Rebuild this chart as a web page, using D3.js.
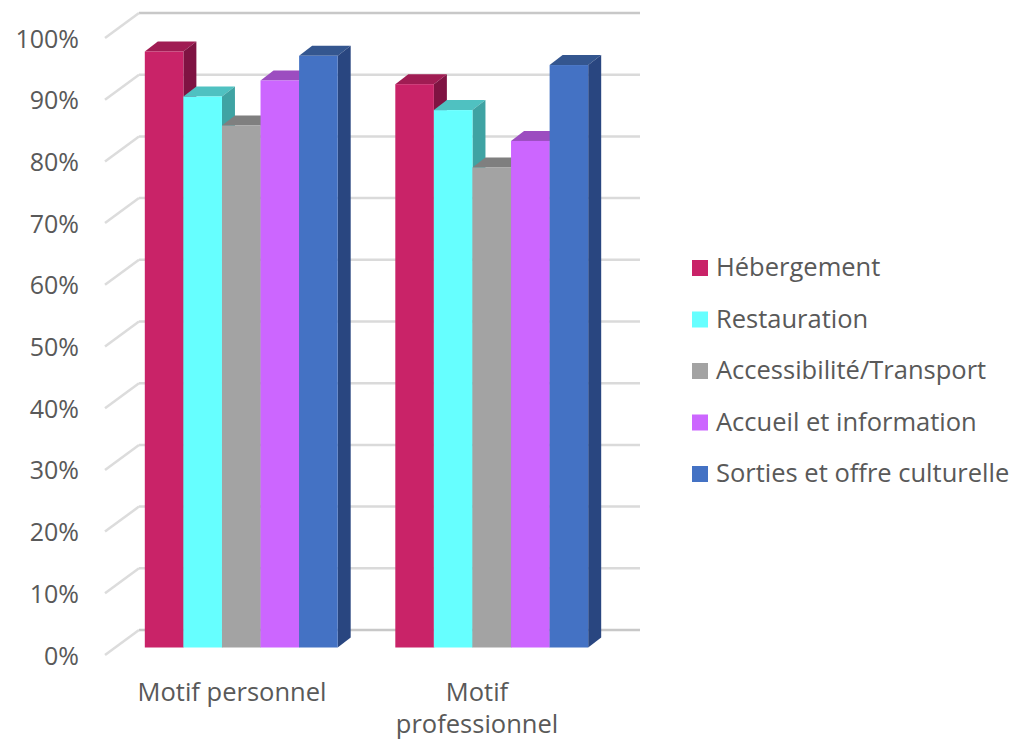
<!DOCTYPE html>
<html>
<head>
<meta charset="utf-8">
<script src="https://d3js.org/d3.v7.min.js"></script>
<style>
  html, body { margin: 0; background: #fff; }
  text { font-family: "Open Sans", sans-serif; fill: #595959; }
</style>
</head>
<body>
<div id="chart"></div>
<script>
const categories = ['Motif personnel', 'Motif professionnel'];
const categoryLines = [['Motif personnel'], ['Motif', 'professionnel']];
const seriesNames = ['Hébergement', 'Restauration', 'Accessibilité/Transport', 'Accueil et information', 'Sorties et offre culturelle'];
const hebergement = [96.6, 91.3];
const restauration = [89.3, 87.1];
const accessibilite = [84.6, 77.8];
const accueil = [91.9, 82.1];
const sorties = [95.9, 94.4];
const seriesValues = [hebergement, restauration, accessibilite, accueil, sorties];
const frontColors = ['#c92368', '#66ffff', '#a3a3a3', '#cc66ff', '#4472c4'];
const topColors = ['#a01c53', '#4fc1c1', '#7f7f7f', '#9c4dc0', '#34568f'];
const sideColors = ['#7f1342', '#3fa3a3', '#6b6b6b', '#8a3fb0', '#294680'];
const ticks = d3.range(0, 101, 10);

const width = 1015, height = 739;
const depthX = 34, depthY = 25;   // wall depth
const barDepthX = 13, barDepthY = 10;

const svg = d3.select('#chart').append('svg')
    .attr('width', width)
    .attr('height', height)
    .style('display', 'block');

// front edge of the chart floor
const y = d3.scaleLinear().domain([0, 100]).range([655, 38]);
const barY = d3.scaleLinear().domain([0, 100]).range([647.5, 30.5]);
const labelX = d3.scaleBand().domain(categories).range([109.5, 599.5]);
const groupX = d3.scaleBand().domain(categories).range([116, 617]).paddingInner(0.23).paddingOuter(0.115);
const seriesX = d3.scaleBand().domain(seriesNames).range([0, groupX.bandwidth()]);

// grid on the back wall and the slanted side wall
const grid = svg.append('g');
grid.selectAll('.back').data(ticks).enter().append('line')
    .attr('x1', 105 + depthX).attr('x2', 606 + depthX)
    .attr('y1', d => y(d) - depthY).attr('y2', d => y(d) - depthY)
    .attr('stroke', d => d === 100 || d === 0 ? '#c8c8c8' : '#dadada')
    .attr('stroke-width', 2.5);
grid.selectAll('.side').data(ticks).enter().append('line')
    .attr('x1', 105).attr('x2', 105 + depthX)
    .attr('y1', d => y(d)).attr('y2', d => y(d) - depthY)
    .attr('stroke', '#dcdcdc')
    .attr('stroke-width', 2.5);

// bars, left to right so each one covers the side of the previous one
const bars = [];
categories.forEach((c, ci) => {
    seriesNames.forEach((s, si) => {
        bars.push({ cat: c, name: s, si: si, value: seriesValues[si][ci] });
    });
});

const bar = svg.append('g').selectAll('g').data(bars).enter().append('g');

bar.append('path')
    .attr('fill', d => topColors[d.si])
    .attr('d', d => {
        const x0 = groupX(d.cat) + seriesX(d.name), x1 = x0 + seriesX.bandwidth(), t = barY(d.value);
        return `M${x0},${t}L${x0 + barDepthX},${t - barDepthY}L${x1 + barDepthX},${t - barDepthY}L${x1},${t}Z`;
    });
bar.append('path')
    .attr('fill', d => sideColors[d.si])
    .attr('d', d => {
        const x1 = groupX(d.cat) + seriesX(d.name) + seriesX.bandwidth(), t = barY(d.value), b = barY(0);
        return `M${x1},${t}L${x1 + barDepthX},${t - barDepthY}L${x1 + barDepthX},${b - barDepthY}L${x1},${b}Z`;
    });
bar.append('rect')
    .attr('x', d => groupX(d.cat) + seriesX(d.name))
    .attr('y', d => barY(d.value))
    .attr('width', seriesX.bandwidth())
    .attr('height', d => barY(0) - barY(d.value))
    .attr('fill', d => frontColors[d.si]);

// value axis
const yAxis = svg.append('g')
    .attr('transform', 'translate(79,1)')
    .call(d3.axisLeft(y).tickValues(ticks).tickSize(0).tickPadding(0).tickFormat(d => d + '%'));
yAxis.select('.domain').remove();
yAxis.selectAll('text').style('font-size', '25px').style('font-family', '"Open Sans", sans-serif').attr('fill', '#595959');

// category axis, labels wrapped by hand
const xAxis = svg.append('g')
    .attr('transform', 'translate(0,693)')
    .call(d3.axisBottom(labelX).tickSize(0).tickFormat(''));
xAxis.select('.domain').remove();
xAxis.selectAll('.tick text').remove();
xAxis.selectAll('.tick').append('text')
    .attr('text-anchor', 'middle')
    .style('font-size', '25.5px')
    .each(function(d, i) {
        d3.select(this).selectAll('tspan').data(categoryLines[i]).enter().append('tspan')
            .attr('x', 0)
            .attr('y', (l, j) => 8 + j * 32)
            .text(l => l);
    });

// legend
const legendY = d3.scalePoint().domain(seriesNames).range([268, 474]);
const legend = svg.append('g').selectAll('g').data(seriesNames).enter().append('g')
    .attr('transform', d => `translate(692,${legendY(d)})`);
legend.append('rect')
    .attr('y', -8).attr('width', 16).attr('height', 16)
    .attr('fill', (d, i) => frontColors[i]);
legend.append('text')
    .attr('x', 24).attr('y', 8)
    .style('font-size', '25.5px')
    .text(d => d);
</script>
</body>
</html>
